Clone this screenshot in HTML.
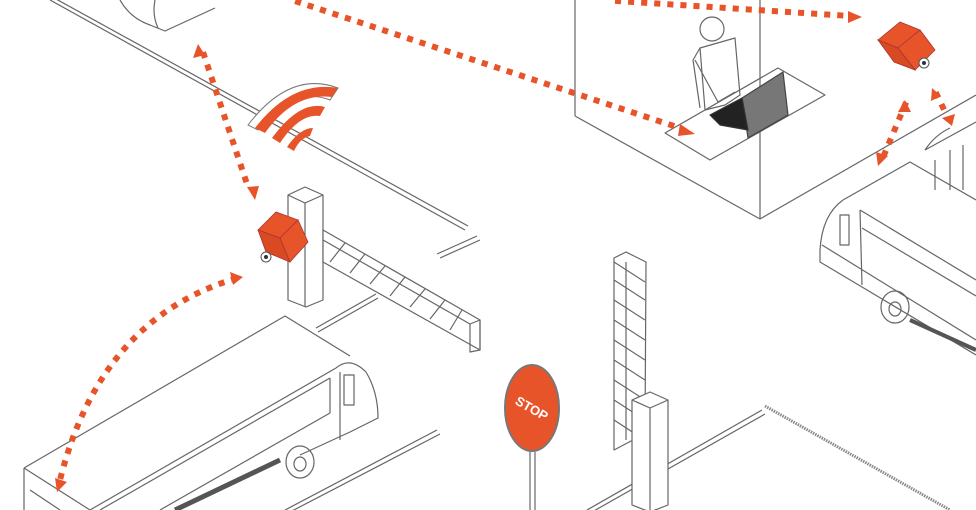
<!DOCTYPE html>
<html><head><meta charset="utf-8"><style>
html,body{margin:0;padding:0;background:#fff;}
svg{display:block;}
</style></head><body>
<svg width="976" height="510" viewBox="0 0 976 510" xmlns="http://www.w3.org/2000/svg" font-family="Liberation Sans, sans-serif">
<g fill="none" stroke="#666" stroke-width="1.2" stroke-linejoin="round">
<!-- top-left road -->
<line x1="50" y1="0" x2="465" y2="230"/>
<line x1="56" y1="-1" x2="468" y2="226"/>
<!-- top car corner -->
<path d="M120 0 Q130 18 150 25 L165 31 L215 8"/>
<path d="M155 0 Q152 15 158 28"/>
<!-- road near barrier -->
<line x1="440" y1="258" x2="480" y2="240"/>
<line x1="437" y1="254" x2="477" y2="236"/>
<line x1="318" y1="332" x2="378" y2="298"/>
<line x1="316" y1="328" x2="376" y2="294"/>
<!-- booth -->
<line x1="575" y1="0" x2="575" y2="116"/>
<line x1="575" y1="116" x2="760" y2="219"/>
<line x1="760" y1="0" x2="760" y2="219"/>
<line x1="760" y1="219" x2="976" y2="95"/>
<polygon points="665,133 778,68 825,95 710,160"/>
<!-- person -->
<circle cx="712" cy="29" r="12"/>
<path d="M700 48 L735 38 L740 95 L725 105 L705 110 Z"/>
<path d="M695 60 L718 102 L735 92"/>
<path d="M700 48 L693 60 L700 108"/>
<!-- laptop -->
<polygon points="742,98 783,72 788,115 748,138" fill="#777" stroke="#444"/>
<polygon points="710,115 742,98 748,130 720,125" fill="#222" stroke="#333"/>
<!-- left pole -->
<path d="M288 195 L305 187 L323 195 L323 300 L306 307 L288 300 Z"/>
<line x1="305" y1="203" x2="305" y2="307"/>
<path d="M288 195 L305 203 L323 195"/>
<!-- barrier arm horizontal -->
<polygon points="323,230 480,320 480,350 323,262" fill="#fff"/>
<line x1="323" y1="240" x2="470" y2="324"/>
<polygon points="470,324 480,320 480,350 470,352"/>
<g>
<line x1="345" y1="243" x2="330" y2="262"/>
<line x1="365" y1="254" x2="350" y2="273"/>
<line x1="385" y1="266" x2="370" y2="284"/>
<line x1="405" y1="277" x2="390" y2="296"/>
<line x1="425" y1="289" x2="410" y2="307"/>
<line x1="445" y1="300" x2="430" y2="319"/>
<line x1="462" y1="310" x2="450" y2="330"/>
</g>
<!-- left bus -->
<path d="M24 468 L285 316 L350 356"/>
<line x1="24" y1="468" x2="90" y2="510"/>
<line x1="24" y1="468" x2="24" y2="510"/>
<line x1="30" y1="490" x2="60" y2="510"/>
<line x1="90" y1="510" x2="336" y2="368"/>
<line x1="100" y1="510" x2="330" y2="378"/>
<line x1="160" y1="510" x2="330" y2="413"/>
<line x1="330" y1="378" x2="330" y2="413"/>
<path d="M336 368 Q350 356 366 372 Q378 392 378 418 L350 432 L300 455"/>
<line x1="340" y1="372" x2="340" y2="440"/>
<rect x="344" y="375" width="10" height="30"/>
<ellipse cx="300" cy="462" rx="14" ry="16"/>
<ellipse cx="300" cy="464" rx="6" ry="7"/>
<line x1="175" y1="510" x2="280" y2="460" stroke="#555" stroke-width="5"/>
<!-- bottom road lines -->
<line x1="285" y1="510" x2="437" y2="430"/>
<line x1="290" y1="512" x2="440" y2="434"/>
<line x1="587" y1="510" x2="762" y2="410"/>
<line x1="592" y1="512" x2="765" y2="414"/>
<line x1="765" y1="406" x2="950" y2="510" stroke="#888" stroke-width="3" stroke-dasharray="1.5 1"/>
<!-- vertical barrier arm -->
<polygon points="614,258 626,252 646,262 645,432 633,440 614,450"/>
<line x1="626" y1="262" x2="626" y2="440"/>
<g>
<line x1="614" y1="280" x2="645" y2="300"/><line x1="614" y1="300" x2="645" y2="320"/>
<line x1="614" y1="320" x2="645" y2="340"/><line x1="614" y1="340" x2="645" y2="360"/>
<line x1="614" y1="360" x2="645" y2="380"/><line x1="614" y1="380" x2="645" y2="400"/>
<line x1="614" y1="400" x2="645" y2="420"/><line x1="614" y1="420" x2="640" y2="437"/>
<line x1="614" y1="262" x2="645" y2="282"/>
</g>
<!-- vertical post -->
<path d="M632 400 L650 392 L668 400 L668 505 L650 512 L632 505 Z" fill="#fff"/>
<path d="M632 400 L650 408 L668 400"/>
<line x1="650" y1="408" x2="650" y2="512"/>
<!-- stop sign pole -->
<line x1="530" y1="452" x2="530" y2="510"/>
<line x1="535" y1="452" x2="535" y2="510"/>
<!-- right bus -->
<path d="M843 200 L910 162 L976 200"/>
<path d="M925 150 L976 122"/>
<path d="M925 150 Q935 135 950 128"/>
<line x1="935" y1="160" x2="935" y2="190"/>
<line x1="950" y1="150" x2="950" y2="190"/>
<line x1="963" y1="145" x2="963" y2="190"/>
<path d="M843 200 Q822 215 820 250 L820 262 L976 355"/>
<line x1="860" y1="210" x2="976" y2="280"/>
<line x1="862" y1="228" x2="976" y2="296"/>
<line x1="860" y1="210" x2="862" y2="285"/>
<rect x="840" y="215" width="9" height="30"/>
<line x1="822" y1="245" x2="976" y2="340"/>
<ellipse cx="895" cy="307" rx="14" ry="16"/>
<ellipse cx="895" cy="309" rx="6" ry="7"/>
<line x1="910" y1="320" x2="976" y2="350" stroke="#555" stroke-width="4"/>
</g>
<!-- wifi -->
<g>
<path d="M248 125 Q290 70 338 88 L330 100 Q290 85 258 130 Z" fill="#fff" stroke="#777"/>
<path d="M255 128 Q292 80 338 88 L332 97 Q294 92 265 133 Z" fill="#E8542A"/>
<path d="M272 138 Q300 100 325 107 L320 116 Q300 113 280 143 Z" fill="#E8542A"/>
<path d="M287 147 Q300 128 313 128 L310 136 Q300 138 294 151 Z" fill="#E8542A"/>
</g>
<!-- left camera (box) -->
<g stroke="#a33" stroke-width="0.8">
<polygon points="258,230 276,212 298,220 280,238" fill="#E8542A"/>
<polygon points="258,230 280,238 290,262 266,252" fill="#D94A22"/>
<polygon points="280,238 298,220 308,242 290,262" fill="#E8542A"/>
</g>
<circle cx="266" cy="257" r="5" fill="#fff" stroke="#555"/>
<circle cx="266" cy="257" r="2" fill="#333"/>
<!-- right camera (box) -->
<g stroke="#a33" stroke-width="0.8">
<polygon points="878,40 900,22 920,30 898,48" fill="#E8542A"/>
<polygon points="898,48 920,30 935,50 915,70" fill="#E8542A"/>
<polygon points="878,40 898,48 915,70 894,62" fill="#D94A22"/>
</g>
<circle cx="924" cy="63" r="5" fill="#fff" stroke="#555"/>
<circle cx="924" cy="63" r="2" fill="#333"/>
<!-- stop sign -->
<ellipse cx="532" cy="408" rx="27" ry="43" fill="#E8542A" stroke="#777" stroke-width="2"/>
<text x="532" y="413" fill="#fff" font-size="13" font-weight="bold" text-anchor="middle" transform="rotate(30 532 408)">STOP</text>
<!-- dotted connectors -->
<g fill="none" stroke="#E8542A" stroke-width="6" stroke-dasharray="0.1 13" stroke-linecap="square">
<line x1="298" y1="2" x2="683" y2="129"/>
<line x1="618" y1="1" x2="850" y2="16"/>
<line x1="204" y1="55" x2="249" y2="190"/>
<path d="M234 279 Q100 320 60 480"/>
<line x1="905" y1="105" x2="884" y2="155"/>
<line x1="937" y1="95" x2="948" y2="118"/>
</g>
<g fill="#E8542A">
<polygon points="695,134 680,124 678,136"/>
<polygon points="862,17 848,11 848,23"/>
<polygon points="198,44 193,58 205,55"/>
<polygon points="255,200 247,187 259,186"/>
<polygon points="243,277 230,272 233,285"/>
<polygon points="57,492 55,478 67,482"/>
<polygon points="878,166 876,152 888,156"/>
<polygon points="905,100 898,112 911,112"/>
<polygon points="932,88 931,101 941,96"/>
<polygon points="952,126 942,118 955,114"/>
</g>
</svg>
</body></html>
